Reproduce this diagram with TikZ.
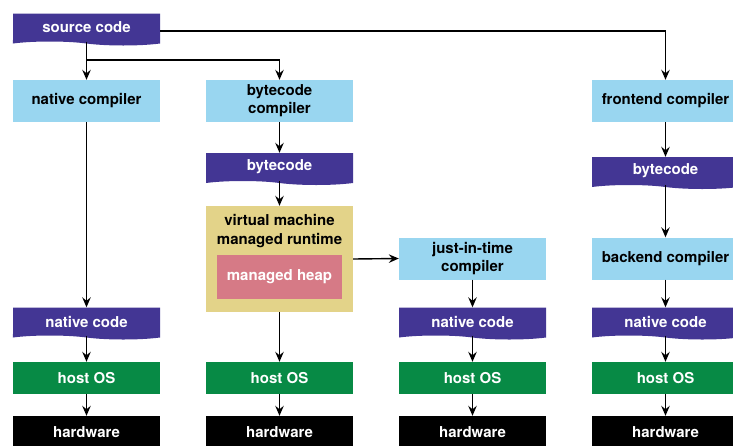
\documentclass[tikz,border=0pt]{standalone}
\usepackage{fontspec}
\setmainfont{TeX Gyre Heros}
\usetikzlibrary{arrows.meta,shapes.symbols}
\definecolor{tapecol}{HTML}{433694}
\definecolor{compcol}{HTML}{99D6F0}
\definecolor{oscol}{HTML}{078A45}
\definecolor{vmcol}{HTML}{E3D389}
\definecolor{heapcol}{HTML}{D67A86}
\tikzset{
  base/.style={inner sep=0pt, font=\fontsize{15}{18}\selectfont\bfseries, align=center, minimum width=147pt},
  tapebox/.style={base, shape=tape, tape bend top=none, tape bend bottom=out and in, tape bend height=4pt, fill=tapecol, text=white, minimum height=32pt},
  compbox/.style={base, rectangle, fill=compcol, text=black, minimum height=42pt},
  osbox/.style={base, rectangle, fill=oscol, text=white, minimum height=32pt},
  hwbox/.style={base, rectangle, fill=black, text=white, minimum height=32pt},
  arr/.style={line width=1.4pt, -{Stealth[length=10pt,width=8.5pt,inset=3.5pt]}},
}
\begin{document}
\begin{tikzpicture}[x=1pt,y=-1pt]
\useasboundingbox (0,0) rectangle (733,445);
\clip (0,0) rectangle (733,445);
% row 1
\node[tapebox] (src) at (86.5,27.5) {source code};
% compilers
\node[compbox] (nc) at (86.5,101) {native compiler};
\node[compbox] (bc) at (279.5,101) {bytecode\\compiler};
\node[compbox] (fc) at (665.5,101) {frontend compiler};
% bytecode
\node[tapebox] (bc2) at (279.5,167) {bytecode};
\node[tapebox] (bc4) at (665.5,171) {bytecode};
% VM
\node[base, rectangle, fill=vmcol, minimum height=106pt] (vm) at (279.5,259) {};
\node[base, minimum width=0pt, anchor=north, text=black] (vmlabel) at (279.5,214) {virtual machine\\[1pt]managed runtime};
\node[base, rectangle, fill=heapcol, text=white, minimum width=125pt, minimum height=44pt] (heap) at (279.5,277) {managed heap};
% jit / backend
\node[compbox] (jit) at (472.5,258.5) {just-in-time\\compiler};
\node[compbox] (be) at (665.5,258.5) {backend compiler};
% native code
\node[tapebox] (nat1) at (86.5,321.5) {native code};
\node[tapebox] (nat3) at (472.5,321.5) {native code};
\node[tapebox] (nat4) at (665.5,321.5) {native code};
% host OS
\node[osbox] (os1) at (86.5,378) {host OS};
\node[osbox] (os2) at (279.5,378) {host OS};
\node[osbox] (os3) at (472.5,378) {host OS};
\node[osbox] (os4) at (665.5,378) {host OS};
% hardware
\node[hwbox] (hw1) at (86.5,432) {hardware};
\node[hwbox] (hw2) at (279.5,432) {hardware};
\node[hwbox] (hw3) at (472.5,432) {hardware};
\node[hwbox] (hw4) at (665.5,432) {hardware};
% connectors
\coordinate (split) at (86.5,60);
\draw[arr] (src.south) -- (nc.north);
\draw[arr] (split) -| (bc.north);
\draw[arr] ([yshift=-3.5pt]src.east) -| (fc.north);
\draw[arr] (nc.south) -- (nat1.north);
\draw[arr] (bc.south) -- (bc2.north);
\draw[arr] (bc2.south) -- (vm.north);
\draw[arr] (vm.south) -- (os2.north);
\draw[arr] (vm.east) -- (jit.west);
\draw[arr] (jit.south) -- (nat3.north);
\draw[arr] (fc.south) -- (bc4.north);
\draw[arr] (bc4.south) -- (be.north);
\draw[arr] (be.south) -- (nat4.north);
\draw[arr] (nat1.south) -- (os1.north);
\draw[arr] (nat3.south) -- (os3.north);
\draw[arr] (nat4.south) -- (os4.north);
\foreach \i in {1,2,3,4} {\draw[arr] (os\i.south) -- (hw\i.north);}
\end{tikzpicture}
\end{document}
